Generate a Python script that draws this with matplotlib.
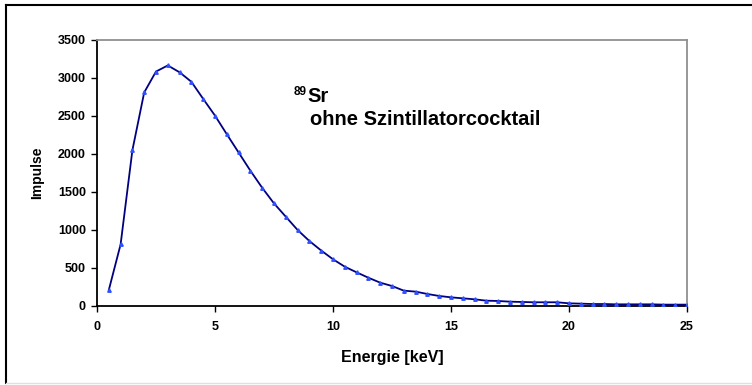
import matplotlib
matplotlib.use("Agg")
import matplotlib.pyplot as plt
from matplotlib.lines import Line2D

plt.rcParams['font.family'] = ['Liberation Sans', 'DejaVu Sans']

# energy channels [keV] and counts
energie = [0.5, 1.0, 1.5, 2.0, 2.5, 3.0, 3.5, 4.0, 4.5, 5.0,
           5.5, 6.0, 6.5, 7.0, 7.5, 8.0, 8.5, 9.0, 9.5, 10.0,
           10.5, 11.0, 11.5, 12.0, 12.5, 13.0, 13.5, 14.0, 14.5, 15.0,
           15.5, 16.0, 16.5, 17.0, 17.5, 18.0, 18.5, 19.0, 19.5, 20.0,
           20.5, 21.0, 21.5, 22.0, 22.5, 23.0, 23.5, 24.0, 24.5, 25.0]
impulse = [210, 810, 2050, 2810, 3085, 3165, 3075, 2950, 2725, 2505,
           2260, 2020, 1780, 1555, 1350, 1175, 1000, 855, 730, 615,
           517, 443, 372, 307, 263, 202, 189, 158, 132, 114,
           101, 88, 70, 66, 57, 53, 49, 49, 49, 35,
           31, 26, 26, 22, 22, 22, 22, 18, 18, 18]

x_ticks = [0, 5, 10, 15, 20, 25]
y_ticks = [0, 500, 1000, 1500, 2000, 2500, 3000, 3500]

W, H = 752, 385
fig = plt.figure(figsize=(W / 100, H / 100), dpi=100)
ax = fig.add_axes([97 / W, 1 - 306 / H, 590 / W, 266 / H])

ax.plot(energie, impulse, color='#000080', lw=1.3, zorder=2)
ax.plot(energie, impulse, ls='none', marker='^', ms=2.5, color='#3050ff',
        mec='#3050ff', zorder=3)

ax.set_xlim(0, 25)
ax.set_ylim(0, 3500)
ax.set_xticks(x_ticks)
ax.set_yticks(y_ticks)
for lab in ax.get_xticklabels() + ax.get_yticklabels():
    lab.set_fontweight('bold')
    lab.set_fontsize(9)
ax.tick_params(direction='out', length=4, width=1, color='black')
ax.tick_params(axis='x', pad=7)
ax.tick_params(axis='y', pad=4)

ax.spines['left'].set_color('black')
ax.spines['bottom'].set_color('black')
ax.spines['left'].set_linewidth(1.3)
ax.spines['bottom'].set_linewidth(1.3)
ax.spines['top'].set_color('#909090')
ax.spines['right'].set_color('#909090')
ax.spines['top'].set_linewidth(1.3)
ax.spines['right'].set_linewidth(1.3)

ax.set_xlabel('Energie [keV]', fontsize=11.5, fontweight='bold', labelpad=12)
ax.set_ylabel('Impulse', fontsize=10, fontweight='bold', labelpad=10)

fig.text(294 / W, 1 - 95 / H, '89', fontsize=8.5, fontweight='bold',
         va='baseline', ha='left')
fig.text(307 / W, 1 - 102 / H, 'Sr', fontsize=14.5, fontweight='bold',
         va='baseline', ha='left')
fig.text(310 / W, 1 - 125 / H, 'ohne Szintillatorcocktail', fontsize=14.5,
         fontweight='bold', va='baseline', ha='left')

# outer chart frame
fig.add_artist(Line2D([6 / W, 6 / W], [1 - 5 / H, 1 - 383 / H], color='black', lw=1.5,
                      transform=fig.transFigure))
fig.add_artist(Line2D([6 / W, 1], [1 - 5 / H, 1 - 5 / H], color='black', lw=1.5,
                      transform=fig.transFigure))
fig.add_artist(Line2D([6 / W, 1], [1 - 383 / H, 1 - 383 / H], color='#e0e0e0', lw=1,
                      transform=fig.transFigure))

fig.savefig('out.png', dpi=100)
